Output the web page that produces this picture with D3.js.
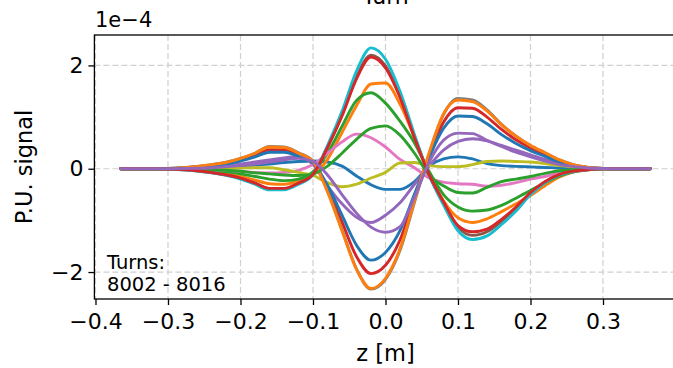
<!DOCTYPE html>
<html><head><meta charset="utf-8">
<script src="https://cdn.jsdelivr.net/npm/d3@7"></script>
<style>body{margin:0;background:#fff}svg{display:block}text{font-family:"DejaVu Sans",sans-serif;fill:#000}</style>
</head><body>
<svg id="c" width="673" height="368"></svg>
<script>
// z positions [m]
const zPos = [-0.365,-0.34,-0.32,-0.30,-0.28,-0.26,-0.24,-0.22,-0.20,-0.18,-0.16,-0.14,-0.12,-0.10,-0.08,-0.06,-0.04,-0.02,0.00,0.02,0.04,0.06,0.08,0.10,0.12,0.14,0.16,0.18,0.20,0.22,0.24,0.26,0.28,0.30,0.32,0.34,0.365];
// P.U. signal values (units of 1e-4), one array per turn
const t8002 = [0,0,0,0,0,0.01,0.02,0.03,0.05,0.07,0.09,0.12,0.14,0.15,0.13,0.05,-0.14,-0.31,-0.4,-0.4,-0.25,0.05,0.19,0.23,0.19,0.1,0.06,0.045,0.035,0.025,0.015,0.01,0.005,0,0,0,0];
const t8003 = [0,0,0,-0.005,-0.015,-0.03,-0.06,-0.1,-0.15,-0.22,-0.29,-0.3,-0.24,-0.12,0.18,0.7,1.22,1.64,1.66,1.25,0.6,-0.1,-0.62,-0.95,-1.04,-0.97,-0.83,-0.68,-0.52,-0.33,-0.16,-0.06,-0.02,0,0,0,0];
const t8004 = [0,0,0,-0.005,-0.01,-0.02,-0.04,-0.06,-0.1,-0.15,-0.2,-0.23,-0.2,-0.06,0.3,0.82,1.32,1.47,1.27,0.92,0.5,-0.05,-0.5,-0.74,-0.82,-0.8,-0.71,-0.57,-0.42,-0.27,-0.14,-0.06,-0.02,0,0,0,0];
const t8005 = [0,0,0,0.004,0.017,0.04,0.07,0.11,0.175,0.26,0.37,0.37,0.27,0.13,-0.37,-1.03,-1.7,-2.03,-1.87,-1.38,-0.57,0.24,0.9,1.18,1.17,1.0,0.76,0.56,0.4,0.27,0.15,0.065,0.022,0.004,0,0,0];
const t8006 = [0,0,0,0,0.01,0.02,0.04,0.06,0.09,0.13,0.17,0.21,0.24,0.08,-0.33,-0.68,-0.94,-1.04,-0.9,-0.66,-0.3,0.05,0.36,0.53,0.58,0.54,0.45,0.36,0.27,0.18,0.1,0.05,0.02,0.005,0,0,0];
const t8007 = [0,0,0,-0.005,-0.02,-0.04,-0.075,-0.12,-0.19,-0.28,-0.39,-0.39,-0.28,-0.11,0.42,1.04,1.78,2.2,1.99,1.41,0.62,-0.11,-0.66,-1.13,-1.29,-1.22,-1.02,-0.77,-0.47,-0.25,-0.11,-0.045,-0.014,0,0,0,0];
const t8008 = [0,0,0,0,-0.005,-0.01,-0.02,-0.03,-0.05,-0.07,-0.08,-0.07,-0.03,0.08,0.3,0.52,0.67,0.6,0.42,0.18,0.02,-0.18,-0.26,-0.29,-0.3,-0.34,-0.32,-0.27,-0.2,-0.15,-0.08,-0.04,-0.015,0,0,0,0];
const t8009 = [0,0,0,0.005,0.02,0.045,0.08,0.125,0.2,0.3,0.43,0.42,0.31,0.15,-0.42,-1.18,-1.94,-2.33,-2.14,-1.58,-0.65,0.28,1.05,1.36,1.33,1.14,0.86,0.63,0.45,0.31,0.17,0.075,0.025,0.005,0,0,0];
const t8010 = [0,0,0,0,0,0,0.005,0.01,0.015,0.02,0.02,-0.02,-0.07,-0.13,-0.27,-0.35,-0.3,-0.18,-0.07,0.11,0.12,0.06,0.04,0.04,0.08,0.14,0.15,0.14,0.13,0.1,0.06,0.03,0.01,0,0,0,0];
const t8011 = [0,0,0,-0.005,-0.02,-0.045,-0.08,-0.13,-0.2,-0.3,-0.41,-0.41,-0.3,-0.12,0.45,1.11,1.89,2.34,2.12,1.5,0.66,-0.12,-0.7,-1.2,-1.37,-1.3,-1.08,-0.82,-0.5,-0.27,-0.12,-0.05,-0.015,0,0,0,0];
const t8012 = [0,0,0,0.004,0.015,0.034,0.06,0.095,0.15,0.23,0.32,0.32,0.24,0.11,-0.32,-0.9,-1.48,-1.77,-1.62,-1.2,-0.49,0.21,0.78,1.02,1.01,0.87,0.66,0.49,0.35,0.24,0.13,0.057,0.02,0.004,0,0,0];
const t8013 = [0,0,0,0.005,0.02,0.045,0.08,0.12,0.2,0.3,0.42,0.41,0.3,0.14,-0.45,-1.2,-1.95,-2.32,-2.12,-1.55,-0.62,0.3,1.06,1.33,1.3,1.12,0.85,0.63,0.45,0.31,0.17,0.075,0.025,0.005,0,0,0];
const t8014 = [0,0,0,0,-0.005,-0.01,-0.02,-0.03,-0.05,-0.08,-0.1,-0.12,-0.13,-0.1,0.05,0.3,0.57,0.78,0.83,0.65,0.3,-0.12,-0.33,-0.46,-0.47,-0.36,-0.25,-0.2,-0.15,-0.09,-0.04,-0.02,-0.005,0,0,0,0];
const t8015 = [0,0,0,-0.005,-0.018,-0.04,-0.075,-0.12,-0.18,-0.28,-0.38,-0.38,-0.28,-0.11,0.41,1.02,1.74,2.16,1.95,1.38,0.6,-0.11,-0.64,-1.1,-1.22,-1.17,-0.98,-0.74,-0.46,-0.25,-0.11,-0.045,-0.014,0,0,0,0];
const t8016 = [0,0,0,0,0.005,0.01,0.02,0.04,0.06,0.09,0.13,0.17,0.2,0.14,-0.12,-0.5,-0.86,-1.13,-1.23,-1.12,-0.55,0.12,0.55,0.69,0.68,0.55,0.43,0.32,0.23,0.15,0.08,0.04,0.015,0.004,0,0,0];
const turns = [t8002,t8003,t8004,t8005,t8006,t8007,t8008,t8009,t8010,t8011,t8012,t8013,t8014,t8015,t8016];
const colors = ["#1f77b4","#ff7f0e","#2ca02c","#d62728","#9467bd","#8c564b","#e377c2","#7f7f7f","#bcbd22","#17becf"];
const xTicks = [-0.4,-0.3,-0.2,-0.1,0.0,0.1,0.2,0.3];
const yTicks = [-2,0,2];

const svg = d3.select("#c");
const x = d3.scaleLinear().domain([-0.4015,0.4015]).range([94.4,676.6]);
const y = d3.scaleLinear().domain([-2.522,2.589]).range([299,35]);
const fmt = v => (v<0?"\u2212":"") + d3.format(".1f")(Math.abs(v));
const fs = 22;

// grid
const g = svg.append("g");
g.selectAll("line.gx").data(xTicks).enter().append("line")
  .attr("x1",d=>x(d)).attr("x2",d=>x(d)).attr("y1",y.range()[1]).attr("y2",y.range()[0])
  .attr("stroke","#d0d0d0").attr("stroke-width",1.2).attr("stroke-dasharray","6,3");
g.selectAll("line.gy").data(yTicks).enter().append("line")
  .attr("y1",d=>y(d)).attr("y2",d=>y(d)).attr("x1",x.range()[0]).attr("x2",x.range()[1])
  .attr("stroke","#d0d0d0").attr("stroke-width",1.2).attr("stroke-dasharray","6,3");

// lines
svg.append("clipPath").attr("id","clip").append("rect")
  .attr("x",x.range()[0]).attr("y",35).attr("width",x.range()[1]-x.range()[0]).attr("height",264);
const line = d3.line().x((d,i)=>x(zPos[i])).y(d=>y(d)).curve(d3.curveMonotoneX);
svg.append("g").attr("clip-path","url(#clip)").selectAll("path").data(turns).enter().append("path")
  .attr("d",d=>line(d)).attr("fill","none")
  .attr("stroke",(d,i)=>colors[i%10]).attr("stroke-width",2.9).attr("stroke-linejoin","round").attr("stroke-linecap","round");

// axes
const xAxis = svg.append("g").attr("transform","translate(0,299)")
  .call(d3.axisBottom(x).tickValues(xTicks).tickFormat(fmt).tickSizeOuter(0).tickSize(6).tickPadding(4));
const yAxis = svg.append("g").attr("transform","translate(94.4,0)")
  .call(d3.axisLeft(y).tickValues(yTicks).tickFormat(d=>d<0?"\u2212"+Math.abs(d):String(d)).tickSizeOuter(0).tickSize(6).tickPadding(5));
[xAxis,yAxis].forEach(a=>{
  a.select(".domain").remove();
  a.selectAll(".tick line").attr("stroke","#000").attr("stroke-width",1.3);
  a.selectAll(".tick text").attr("font-size",fs).attr("font-family","DejaVu Sans").attr("fill","#000");
});
xAxis.selectAll(".tick text").attr("dy","0.93em");
// frame
svg.append("rect").attr("x",x.range()[0]).attr("y",35).attr("width",x.range()[1]-x.range()[0]).attr("height",264)
  .attr("fill","none").attr("stroke","#000").attr("stroke-width",1.3);

// texts
svg.append("text").attr("x",385.5).attr("y",3.5).attr("text-anchor","middle").attr("font-size",fs).text("Turn");
svg.append("text").attr("x",95).attr("y",27).attr("font-size",21).text("1e\u22124");
svg.append("text").attr("x",385.5).attr("y",361).attr("text-anchor","middle").attr("font-size",22.5).text("z [m]");
svg.append("text").attr("transform","translate(32,167) rotate(-90)").attr("text-anchor","middle").attr("font-size",22.5).text("P.U. signal");
svg.append("text").attr("x",107).attr("y",268.5).attr("font-size",19.5).text("Turns:");
svg.append("text").attr("x",107).attr("y",290.5).attr("font-size",19.5).text("8002 - 8016");
</script>
</body></html>
